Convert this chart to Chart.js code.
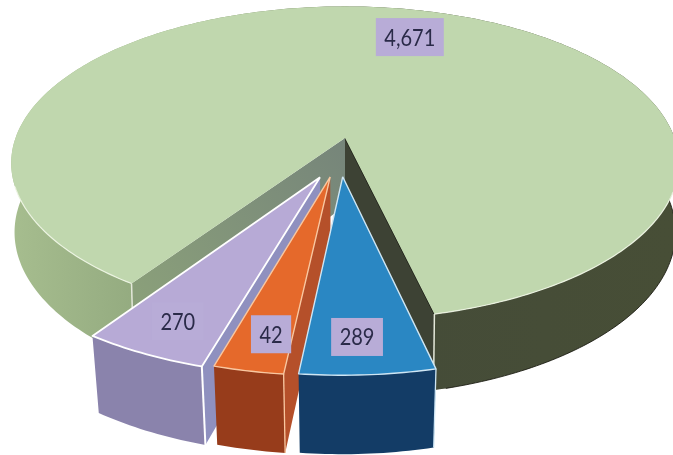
<!DOCTYPE html>
<html><head><meta charset="utf-8">
<style>html,body{margin:0;padding:0;background:#fff;overflow:hidden}canvas{display:block}</style>
<script src="https://cdn.jsdelivr.net/npm/chart.js@4"></script>
</head><body><canvas id="c" width="673" height="455"></canvas>
<script>
// Printed data labels.
const categories = ['Main', 'Blue', 'Orange', 'Purple'];
const printedLabels = ['4,671', '289', '42', '270'];
// the orange slice is drawn far wider (about 10 degrees) than its printed "42".
const sliceValues = [4671, 289, 150, 270];

const topColors = ['#c0d7ae', '#2a87c3', '#e5692b', '#b7aad6'];
const wallColors = ['#8ea57e', '#133c66', '#973c1b', '#8a83ac'];
const cutColors = ['#8a9a80', '#1c5d8c', '#b5502a', '#8f90bf'];
const edgeColors = ['rgba(240,246,230,.9)', '#cfe6f4', '#f9c7a0', '#ffffff'];
const offsets = [0, 49, 50, 54.5];

// Perspective model of the pie plane on the page
const view = {cx: 345, cy: 138, A: 329.5, B: 152.7, k: 0.16, depth: 68, shrinkY: 0.975};
const shrinkX = [0.99, 0.975, 0.975, 0.975];
const nudgeU = [0, -0.022, 0.005, 0.043];
const labelPlane = [[0.22, -0.739], [0.037, 0.834], [-0.143, 0.821], [-0.353, 0.76]];
const labelPad = {x: 8.5, h: 38};
const labelFont = {size: 23, squeeze: 0.87};

function project(u, v, bottom, sx) {
  const W = 1 - view.k * v;
  return {
    x: view.cx + view.A * (bottom ? sx : 1) * u / W,
    y: view.cy + (view.B * (bottom ? view.shrinkY : 1) * v + (bottom ? view.depth : 0)) / W
  };
}
function poly(ctx, pts) {
  ctx.beginPath();
  pts.forEach((p, i) => i ? ctx.lineTo(p.x, p.y) : ctx.moveTo(p.x, p.y));
  ctx.closePath();
}
function line(ctx, pts, color, w) {
  ctx.beginPath();
  pts.forEach((p, i) => i ? ctx.lineTo(p.x, p.y) : ctx.moveTo(p.x, p.y));
  ctx.strokeStyle = color; ctx.lineWidth = w; ctx.stroke();
}

const pie3d = {
  id: 'pie3d',
  beforeDatasetDraw(chart) {
    const ctx = chart.ctx;
    const arcs = chart.getDatasetMeta(0).data;
    const order = [0, 3, 2, 1];
    ctx.save();
    ctx.lineJoin = 'round';
    order.forEach(i => {
      const el = arcs[i];
      const R = el.outerRadius;
      const mid = (el.startAngle + el.endAngle) / 2;
      const f = (el.options.offset || 0) / R;
      const ou = f * Math.cos(mid) + nudgeU[i];
      const ov = f * Math.sin(mid);
      const n = Math.max(8, Math.ceil((el.endAngle - el.startAngle) * 60));
      const rim = [];
      for (let t = 0; t <= n; t++) {
        const a = el.startAngle + (el.endAngle - el.startAngle) * t / n;
        rim.push([ou + Math.cos(a), ov + Math.sin(a)]);
      }
      const top = rim.map(p => project(p[0], p[1], false));
      const bot = rim.map(p => project(p[0], p[1], true, shrinkX[i]));
      const aT = project(ou, ov, false), aB = project(ou, ov, true, shrinkX[i]);
      const last = rim.length - 1;
      const half = Math.floor(last / 2);

      // radial cut faces
      if (i === 0) {
        const gl = ctx.createLinearGradient(aT.x, aT.y, top[0].x, top[0].y);
        gl.addColorStop(0, '#76857a'); gl.addColorStop(1, '#8a9f7a');
        ctx.fillStyle = gl;
        poly(ctx, [aT, top[0], bot[0], aB]); ctx.fill();
        ctx.fillStyle = '#3d4234';
        poly(ctx, [aT, top[last], bot[last], aB]); ctx.fill();
      } else {
        ctx.fillStyle = cutColors[i];
        poly(ctx, [aT, top[0], bot[0], aB]); ctx.fill();
      }

      // outer wall
      let wall = wallColors[i];
      if (i === 0) {
        wall = ctx.createLinearGradient(0, 0, 673, 0);
        wall.addColorStop(0, '#a8bf90');
        wall.addColorStop(0.2, '#94ab80');
        wall.addColorStop(0.3, '#85996f');
        wall.addColorStop(0.62, '#454c38');
        wall.addColorStop(1, '#474e36');
      }
      ctx.fillStyle = wall;
      const spans = i === 0 ? [[0, half], [half, last]] : [[0, last]];
      spans.forEach(([a, b]) => {
        poly(ctx, top.slice(a, b + 1).concat(bot.slice(a, b + 1).reverse()));
        ctx.fill();
      });
      if (i === 0) {
        line(ctx, bot.slice(half).filter(p => p.x > 440 && p.y > 150), 'rgba(25,25,15,.85)', 1);
        line(ctx, [aT, top[last]], '#15160f', 1.3);
      }

      // top face
      ctx.fillStyle = topColors[i];
      poly(ctx, [aT].concat(top)); ctx.fill();

      // highlights
      if (i === 0) {
        line(ctx, top.slice(0, half).filter(p => p.y > 185), edgeColors[i], 1.2);
        line(ctx, top.slice(half).filter(p => p.y > 190), edgeColors[i], 1.2);
        line(ctx, [top[0], bot[0]], '#e4e8da', 1.5);
        line(ctx, [top[last], bot[last]], '#e4e8da', 1.5);
      } else {
        line(ctx, [aT].concat(top).concat([aT]), edgeColors[i], i === 3 ? 1.8 : 1.4);
        line(ctx, [top[0], bot[0]], edgeColors[i], i === 3 ? 2 : 1.3);
      }
    });

    // data labels
    ctx.font = labelFont.size + 'px Lato, sans-serif';
    ctx.textAlign = 'center'; ctx.textBaseline = 'middle';
    arcs.forEach((el, i) => {
      const R = el.outerRadius;
      const mid = (el.startAngle + el.endAngle) / 2;
      const f = (el.options.offset || 0) / R;
      const p = project(f * Math.cos(mid) + nudgeU[i] + labelPlane[i][0],
                        f * Math.sin(mid) + labelPlane[i][1], false);
      const txt = printedLabels[i];
      const w = ctx.measureText(txt).width * labelFont.squeeze + labelPad.x * 2;
      ctx.fillStyle = '#b8acd7';
      ctx.fillRect(p.x - w / 2, p.y - labelPad.h / 2, w, labelPad.h);
      ctx.fillStyle = '#2a2a48';
      ctx.save();
      ctx.translate(p.x, p.y + 1);
      ctx.scale(labelFont.squeeze, 1);
      ctx.fillText(txt, 0, 0);
      ctx.restore();
    });
    ctx.restore();
    return false;
  }
};

new Chart(document.getElementById('c'), {
  type: 'pie',
  data: {
    labels: categories,
    datasets: [{data: sliceValues, backgroundColor: topColors, offset: offsets, borderWidth: 0}]
  },
  options: {
    responsive: false, animation: false,
    rotation: 214.2,
    plugins: {legend: {display: false}, tooltip: {enabled: false}}
  },
  plugins: [pie3d]
});
</script></body></html>
